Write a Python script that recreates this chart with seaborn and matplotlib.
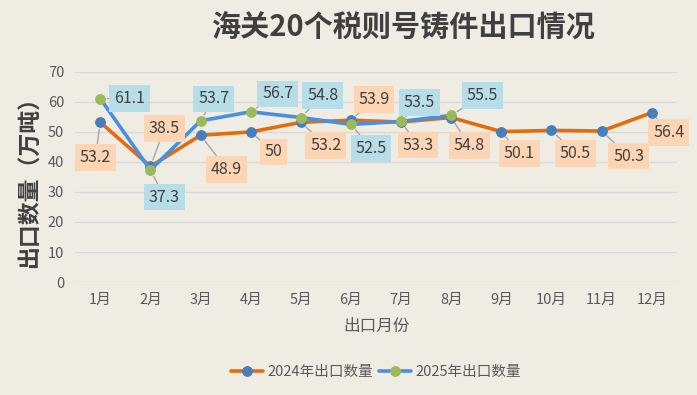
import matplotlib
matplotlib.use("Agg")
import matplotlib.pyplot as plt
import seaborn as sns
import pandas as pd

months = ["1月", "2月", "3月", "4月", "5月", "6月", "7月", "8月", "9月", "10月", "11月", "12月"]
export_2024 = [53.2, 38.5, 48.9, 50, 53.2, 53.9, 53.3, 54.8, 50.1, 50.5, 50.3, 56.4]
export_2025 = [61.1, 37.3, 53.7, 56.7, 54.8, 52.5, 53.5, 55.5]

# label offsets in pixels (dx, dy) for each data label
off_2024 = [(-5, -35), (14, 38), (26, -34), (23, -20), (25, -23), (23, 21), (17, -23), (18, -28),
            (18, -22), (24, -23), (27, -25), (17, -20)]
off_2025 = [(29, 0), (14, -27), (13, 22), (27, 18), (22, 22), (20, -24), (18, 19), (31, 20)]

df24 = pd.DataFrame({"x": range(len(export_2024)), "y": export_2024})
df25 = pd.DataFrame({"x": range(len(export_2025)), "y": export_2025})

bg = "#EFEDE3"
sns.set_theme(style="white")
plt.rcParams["font.family"] = ["Noto Sans CJK SC", "DejaVu Sans"]

fig = plt.figure(figsize=(6.97, 3.95), dpi=100, facecolor=bg)
ax = fig.add_axes([0.108, 0.286, 0.863, 0.532], facecolor=bg)

sns.lineplot(data=df24, x="x", y="y", ax=ax, color="#E46C0A", linewidth=2.6,
             marker="o", markersize=7, markerfacecolor="#4A7EBB", markeredgecolor="#4A7EBB",
             label="2024年出口数量", zorder=3)
sns.lineplot(data=df25, x="x", y="y", ax=ax, color="#4A8FE0", linewidth=2.6,
             marker="o", markersize=7, markerfacecolor="#9BBB59", markeredgecolor="#9BBB59",
             label="2025年出口数量", zorder=4)

def add_labels(vals, offs, fc):
    for i, (v, (dx, dy)) in enumerate(zip(vals, offs)):
        ax.annotate(f"{v:g}", xy=(i, v), xytext=(dx, dy), textcoords="offset pixels",
                    ha="center", va="center", fontsize=11.5, color="#404040",
                    bbox=dict(boxstyle="square,pad=0.3", fc=fc, ec="none"),
                    arrowprops=dict(arrowstyle="-", color="#A6A6A6", lw=1, shrinkA=0, shrinkB=5),
                    zorder=6)

add_labels(export_2024, off_2024, "#FCD5B5")
add_labels(export_2025, off_2025, "#B7DEE8")

ax.set_xlim(-0.5, 11.5)
ax.set_ylim(0, 70)
ax.set_yticks(range(0, 71, 10))
ax.set_xticks(range(12))
ax.set_xticklabels(months)
ax.tick_params(axis="both", colors="#595959", labelsize=10.5, length=0)
ax.tick_params(axis="y", pad=8)
ax.tick_params(axis="x", pad=8)
ax.grid(axis="y", color="#D9D9D9", linewidth=1)
ax.grid(axis="x", visible=False)
for s in ax.spines.values():
    s.set_visible(False)

ax.set_xlabel("出口月份", fontsize=12, color="#595959", labelpad=8)
ax.set_ylabel("出口数量（万吨）", fontsize=16.5, fontweight="bold", color="#404040", labelpad=4)

fig.text(0.58, 0.93, "海关20个税则号铸件出口情况", ha="center", va="center",
         fontsize=21, fontweight="bold", color="#404040")

ax.legend(loc="center", bbox_to_anchor=(0.5, -0.43), ncol=2, frameon=False,
          fontsize=10.5, labelcolor="#595959", handlelength=2.2, columnspacing=0.4,
          handletextpad=0.3)

fig.savefig("out.png", dpi=100, facecolor=bg)
